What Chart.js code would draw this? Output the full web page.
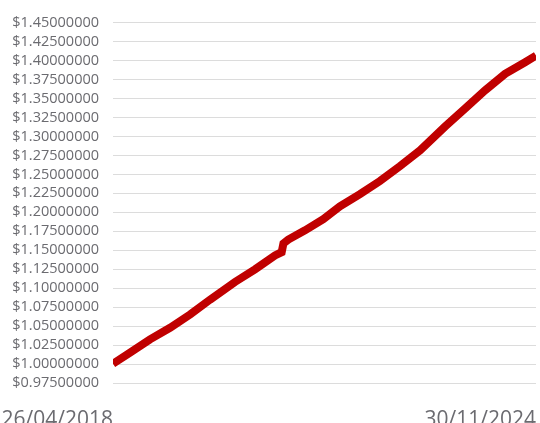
<!DOCTYPE html>
<html lang="en">
<head>
  <meta charset="UTF-8">
  <title>Price history</title>
  <script src="https://cdn.jsdelivr.net/npm/chart.js"></script>
  <style>
    html, body { margin: 0; padding: 0; background: #fff; }
  </style>
</head>
<body>
  <canvas id="chart" width="540" height="423"></canvas>

  <script>
    // values
    const dates = ['26/04/2018', '01/08/2018', '23/11/2018', '17/03/2019', '09/07/2019',
                   '31/10/2019', '21/03/2020', '13/07/2020', '04/11/2020', '12/12/2020',
                   '22/12/2020', '19/01/2021', '24/04/2021', '06/08/2021', '09/11/2021',
                   '03/03/2022', '25/06/2022', '17/10/2022', '08/02/2023', '01/07/2023',
                   '23/10/2023', '14/02/2024', '07/06/2024', '29/09/2024', '30/11/2024'];
    const prices = [1.0005, 1.0150, 1.0326, 1.0478, 1.0653,
                    1.0849, 1.1082, 1.1249, 1.1432, 1.1475,
                    1.1590, 1.1641, 1.1763, 1.1910, 1.2078,
                    1.2239, 1.2413, 1.2609, 1.2817, 1.3131,
                    1.3369, 1.3608, 1.3826, 1.3979, 1.4066];
    const yTicks = [0.975, 1.000, 1.025, 1.050, 1.075, 1.100, 1.125, 1.150, 1.175, 1.200,
                    1.225, 1.250, 1.275, 1.300, 1.325, 1.350, 1.375, 1.400, 1.425, 1.450];

    function toDay(s) {
      const p = s.split('/');
      return Date.UTC(+p[2], +p[1] - 1, +p[0]) / 86400000;
    }
    const day0 = toDay(dates[0]);
    const dayN = toDay(dates[dates.length - 1]);
    const points = dates.map((d, i) => ({ x: toDay(d) - day0, y: prices[i] }));

    const textColor = '#6b6b70';
    const fontFamily = '"Open Sans", sans-serif';

    const ctx = document.getElementById('chart').getContext('2d');
    new Chart(ctx, {
      type: 'line',
      data: {
        datasets: [{
          data: points,
          borderColor: '#c00000',
          borderWidth: 8,
          pointRadius: 0,
          tension: 0,
          borderCapStyle: 'butt'
        }]
      },
      options: {
        responsive: false,
        animation: false,
        layout: { padding: { top: 17, right: 4, left: 0, bottom: 0 } },
        plugins: { legend: { display: false }, tooltip: { enabled: false } },
        scales: {
          x: {
            type: 'linear',
            min: 0,
            max: dayN - day0,
            grid: { display: false },
            border: { display: false },
            afterBuildTicks: s => { s.ticks = [{ value: 0 }, { value: dayN - day0 }]; },
            afterFit: s => { s.height = 40; s.paddingLeft = 0; s.paddingRight = 0; },
            ticks: {
              align: 'end',
              maxRotation: 0,
              autoSkip: false,
              padding: 16,
              color: textColor,
              font: { family: fontFamily, size: 21 },
              callback: v => v === 0 ? dates[0] : dates[dates.length - 1]
            }
          },
          y: {
            min: yTicks[0],
            max: yTicks[yTicks.length - 1],
            afterBuildTicks: s => { s.ticks = yTicks.map(v => ({ value: v })); },
            afterFit: s => { s.width = 113; },
            grid: { color: '#dcdcdc', drawTicks: false },
            border: { display: false },
            ticks: {
              autoSkip: false,
              padding: 14,
              color: textColor,
              font: { family: fontFamily, size: 14.5 },
              callback: v => '$' + v.toFixed(8)
            }
          }
        }
      }
    });
  </script>
</body>
</html>
